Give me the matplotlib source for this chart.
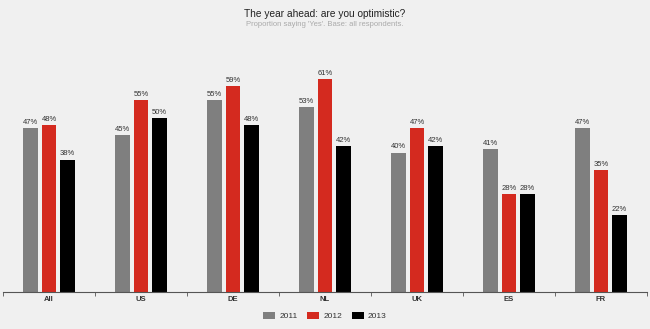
import matplotlib
matplotlib.use("Agg")
import matplotlib.pyplot as plt
from matplotlib.patches import Patch
import numpy as np

plt.rcParams['font.family'] = ['Liberation Sans', 'DejaVu Sans']

categories = ["All", "US", "DE", "NL", "UK", "ES", "FR"]
years = ["2011", "2012", "2013"]
values_2011 = [47, 45, 55, 53, 40, 41, 47]
values_2012 = [48, 55, 59, 61, 47, 28, 35]
values_2013 = [38, 50, 48, 42, 42, 28, 22]
series = [values_2011, values_2012, values_2013]
colors = ["#7f7f7f", "#d42a1f", "#000000"]

bg = "#f0f0f0"
fig = plt.figure(figsize=(6.5, 3.29), dpi=100, facecolor=bg)
ax = fig.add_axes([3 / 650, 37 / 329, 644 / 650, 244 / 329], facecolor=bg)

x = np.arange(len(categories))
width = 0.155
offsets = [-0.2, 0.0, 0.2]
for vals, off, col, yr in zip(series, offsets, colors, years):
    bars = ax.bar(x + off, vals, width, color=col, label=yr)
    for b, v in zip(bars, vals):
        ax.text(b.get_x() + b.get_width() / 2, v + 0.6, f"{v}%",
                ha="center", va="bottom", fontsize=5.5, color="#333333")

ax.set_xlim(-0.5, len(categories) - 0.5)
ax.set_ylim(0, 70)
ax.set_yticks([])
ax.set_xticks(x)
ax.set_xticklabels(categories, fontsize=5.5, fontweight="bold", color="#333333")
ax.tick_params(axis="x", length=0, pad=3)
ax.set_xticks(np.arange(-0.5, len(categories) + 0.5, 1), minor=True)
ax.tick_params(axis="x", which="minor", length=3, color="#555555", direction="out")
for s in ["top", "right", "left"]:
    ax.spines[s].set_visible(False)
ax.spines["bottom"].set_color("#555555")
ax.spines["bottom"].set_linewidth(0.8)

fig.text(0.5, 1 - 14 / 329, "The year ahead: are you optimistic?",
         ha="center", va="center", fontsize=7.3, color="#222222")
fig.text(0.5, 1 - 25 / 329, "Proportion saying 'Yes'. Base: all respondents.",
         ha="center", va="center", fontsize=5.5, color="#aaaaaa")

handles = [Patch(facecolor=c, edgecolor="none") for c in colors]
fig.legend(handles, years, loc="center", bbox_to_anchor=(0.5, 1 - 316 / 329),
           ncol=3, frameon=False, fontsize=6, handlelength=1.4, handleheight=0.9,
           columnspacing=1.2, handletextpad=0.5, labelcolor="#333333")

fig.savefig("out.png", dpi=100, facecolor=bg)
